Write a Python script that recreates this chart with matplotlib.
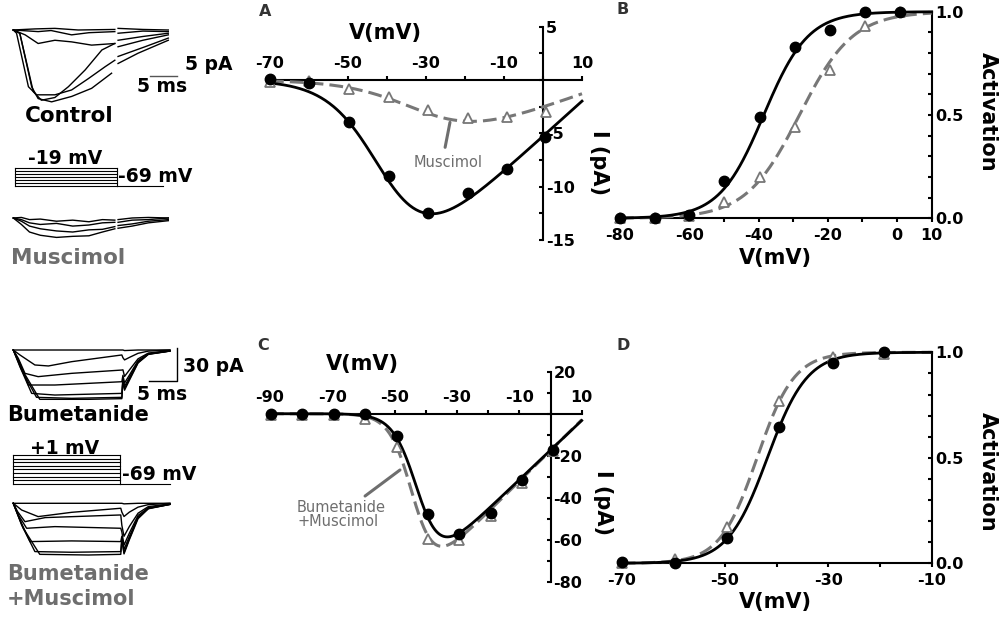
import numpy as np
import matplotlib
matplotlib.use("Agg")
import matplotlib.pyplot as plt

plt.rcParams['font.family'] = ['DejaVu Sans']
plt.rcParams['font.weight'] = 'bold'
plt.rcParams['axes.unicode_minus'] = False
plt.rcParams['axes.linewidth'] = 1.5

W, H = 1000, 623
GRAY = '#6e6e6e'
LGRAY = '#777777'

# ---------------- data ----------------
# Panel A : I-V, control vs muscimol
a_v_ctrl = [-70, -60, -49.8, -39.6, -29.4, -19.3, -9.3, 0.6]
a_i_ctrl = [0.1, -0.3, -3.9, -9.0, -12.45, -10.6, -8.3, -5.3]
a_v_mus = [-70, -60, -49.8, -39.6, -29.4, -19.3, -9.3, 0.8]
a_i_mus = [-0.2, -0.1, -0.8, -1.6, -2.8, -3.6, -3.5, -3.0]
a_fit_ctrl = (0.33, 16.0, -40.0, 6.5)     # G, Erev, Vhalf, k
a_fit_mus = (0.13, 20.0, -29.0, 8.5)

# Panel B : activation, control vs muscimol
b_v = [-80, -69.9, -60, -49.9, -39.6, -29.5, -19.4, -9.3, 0.8]
b_act_ctrl = [0.0, 0.0, 0.016, 0.18, 0.49, 0.83, 0.91, 1.0, 1.0]
b_act_mus = [0.0, 0.0, 0.01, 0.08, 0.20, 0.44, 0.72, 0.93, 1.0]
b_fit_ctrl = (-38.5, 6.4)
b_fit_mus = (-28.2, 7.7)

# Panel C : I-V, bumetanide vs bumetanide+muscimol
c_v = [-89.8, -79.8, -69.5, -59.5, -49.4, -39.2, -29.3, -19.2, -9.0, 0.9]
c_i_bum = [0, 0, 0, 0, -10.4, -47.7, -57.1, -47.2, -31.5, -17.3]
c_i_bm = [-0.5, -0.5, -0.5, -2.4, -16.0, -59.5, -60.3, -48.8, -32.8, -17.6]
c_fit_bum = (1.41, 12.3, -42.2, 3.8)
c_fit_bm = (1.46, 12.0, -43.8, 3.6)

# Panel D : activation, bumetanide vs bumetanide+muscimol
d_v = [-70, -59.7, -49.7, -39.5, -29.2, -19.2]
d_act_bum = [0.008, 0.0, 0.12, 0.645, 0.95, 1.0]
d_act_bm = [0.0, 0.02, 0.17, 0.77, 0.98, 0.99]
d_fit_bum = (-41.8, 3.85)
d_fit_bm = (-43.8, 3.6)

# Example current traces (ms, pA): pulse part, then tail part
ctrl_traces = [
    ([0, 1.2, 3.4, 4.6, 7.1, 10.8, 14.5, 18.2], [0, -0.6, -10.5, -12.7, -13.3, -12.3, -10.8, -8.0],
     [19.4, 23.1, 28.7], [-6.2, -4.3, -1.9]),
    ([0, 0.6, 2.8, 4.3, 7.7, 10.8, 13.9, 17.0, 18.8], [0, -0.6, -10.5, -12.0, -12.0, -11.1, -9.0, -6.8, -5.6],
     [19.4, 24.4, 28.7], [-4.9, -3.1, -1.5]),
    ([0, 1.2, 3.7, 5.2, 7.7, 10.2, 13.3, 16.4, 18.8], [0, -0.6, -11.4, -13.0, -12.5, -10.5, -7.4, -3.7, -2.5],
     [19.4, 24.0, 28.7], [-3.1, -1.9, -0.9]),
    ([0, 2.2, 4.6, 7.7, 10.8, 14.5, 18.8], [0, -0.9, -2.5, -1.9, -2.2, -2.8, -2.5],
     [19.4, 24.0, 28.7], [-1.9, -1.2, -0.6]),
    ([0, 4.6, 7.0, 10.8, 14.0, 18.8], [0, -0.3, -0.1, -0.9, -0.5, -0.3],
     [19.4, 24.0, 28.7], [-0.6, -0.2, -0.3]),
    ([0, 4.0, 7.7, 12.0, 18.8], [0, 0.2, 0.3, 0.0, 0.1],
     [19.4, 24.0, 28.7], [0.3, 0.1, 0.0]),
]
mus_t = [0, 1.5, 3, 5, 8, 11, 14, 16.5, 18.8]
mus_tail_t = [19.4, 22, 25, 28.7]
mus_traces = [
    ([0, -1.2, -2.6, -3.2, -3.6, -3.4, -3.3, -2.6, -2.0], [-1.9, -1.5, -0.9, -0.5]),
    ([0, -0.6, -1.5, -2.0, -2.4, -2.6, -2.2, -2.1, -1.6], [-1.4, -1.1, -0.6, -0.3]),
    ([0, -0.3, -0.9, -1.2, -1.0, -1.5, -1.3, -0.9, -0.8], [-0.8, -0.4, -0.3, 0.0]),
    ([0, 0.1, -0.3, -0.2, -0.6, -0.4, -0.7, -0.3, -0.4], [-0.3, 0.0, 0.1, 0.0]),
]
bum_tail_t = [20.3, 20.6, 21.6, 23.1, 25.0, 29.0]
bum_traces = [
    ([0, 20.1], [0, 0], [0, -0.5, -0.3, 0, 0, 0]),
    ([0, 1.23, 4.0, 6.5, 10.8, 20.1], [0, -4.5, -13.6, -14.5, -10.6, -4.5], [-7, -9, -6.5, -3, -1, 0]),
    ([0, 0.93, 2.16, 4.6, 10.8, 20.1], [0, -7.6, -21.2, -24.2, -21.2, -18.2], [-18, -24, -17.5, -8, -2.8, -0.6]),
    ([0, 1.23, 2.78, 7.7, 20.1], [0, -12.1, -31.8, -31.8, -28.8], [-23, -30, -22, -9.6, -3.3, -0.8]),
    ([0, 1.23, 3.4, 7.7, 20.1], [0, -15.2, -39.4, -40.9, -39.4], [-25, -33, -24, -10.6, -3.6, -0.9]),
    ([0, 1.54, 4.3, 10.8, 20.1], [0, -18.2, -43.0, -43.9, -43.0], [-27, -35, -25.5, -11.3, -3.8, -0.9]),
    ([0, 1.85, 4.9, 13.9, 20.1], [0, -19.7, -44.8, -44.8, -44.2], [-28, -36.5, -26.5, -11.8, -4.0, -1.0]),
]
bm_tail_t = [20.1, 20.5, 21.5, 23.1, 25.0, 29.0]
bm_traces = [
    ([0, 19.9], [0, 0], [0, -0.5, -0.3, 0, 0, 0]),
    ([0, 1.54, 4.6, 10.8, 19.9], [0, -6.1, -12.1, -8.2, -4.5], [-8, -12, -8, -3.5, -1.2, 0]),
    ([0, 0.8, 2.16, 5.9, 19.9], [0, -7.6, -16.7, -13.0, -10.6], [-20, -30, -21, -9, -3, -0.6]),
    ([0, 0.93, 2.47, 7.7, 19.9], [0, -10.6, -22.7, -21.2, -22.7], [-26, -38, -27, -11, -4, -0.8]),
    ([0, 1.23, 3.1, 10.8, 19.9], [0, -15.2, -34.8, -34.2, -34.8], [-30, -42, -30, -12.5, -4.5, -1.0]),
    ([0, 1.54, 4.0, 10.8, 19.9], [0, -19.7, -43.9, -44.5, -43.9], [-32, -45, -32, -13, -4.7, -1.0]),
    ([0, 1.85, 4.9, 13.9, 19.9], [0, -22.7, -46.4, -47.0, -46.4], [-33, -46, -33, -14, -5.0, -1.0]),
]
# Voltage protocols (mV levels, pulse start/end, trace end in ms)
prot1_levels = [-19, -29, -39, -49, -59, -69, -79]
prot1_times = (0.3, 19.2, 27.7)
prot2_levels = [1, -9, -19, -29, -39, -49, -59, -69, -79]
prot2_times = (0.0, 19.8, 29.0)

# ---------------- figure ----------------
fig = plt.figure(figsize=(W / 100, H / 100), dpi=100)


def box(x0, y0, x1, y1):
    return fig.add_axes([x0 / W, 1 - y1 / H, (x1 - x0) / W, (y1 - y0) / H])


def ftext(x, y, s, **kw):
    kw.setdefault('ha', 'center')
    kw.setdefault('va', 'center')
    return fig.text(x / W, 1 - y / H, s, **kw)


def iv_fit(v, G, E, Vh, k):
    return G * (v - E) / (1 + np.exp((Vh - v) / k))


def boltz(v, Vh, k):
    return 1 / (1 + np.exp((Vh - v) / k))


def style_iv(ax, xlim, ylim, xmaj, xmin, ymaj, ymin):
    ax.set_xlim(xlim)
    ax.set_ylim(ylim)
    ax.patch.set_visible(False)
    ax.spines['left'].set_visible(False)
    ax.spines['bottom'].set_visible(False)
    ax.spines['top'].set_position(('data', 0))
    ax.spines['right'].set_position(('data', 0))
    ax.xaxis.set_ticks_position('top')
    ax.yaxis.set_ticks_position('right')
    ax.set_xticks(xmaj)
    ax.set_xticks(xmin, minor=True)
    ax.set_yticks(ymaj)
    ax.set_yticks(ymin, minor=True)
    ax.tick_params(axis='x', which='both', direction='out', length=3, width=1.5,
                   pad=3.5, labelsize=11.5)
    ax.tick_params(axis='y', which='both', direction='in', length=3, width=1.5,
                   pad=2, labelsize=11.5)


def style_act(ax, xlim, xmaj, xmin):
    ax.set_xlim(xlim)
    ax.set_ylim(0, 1)
    ax.patch.set_visible(False)
    ax.spines['left'].set_visible(False)
    ax.spines['top'].set_visible(False)
    ax.xaxis.set_ticks_position('bottom')
    ax.yaxis.set_ticks_position('right')
    ax.set_xticks(xmaj)
    ax.set_xticks(xmin, minor=True)
    ax.set_yticks([0, 0.5, 1.0])
    ax.set_yticks([0.1, 0.2, 0.3, 0.4, 0.6, 0.7, 0.8, 0.9], minor=True)
    ax.tick_params(axis='x', which='both', direction='out', length=3, width=1.5,
                   pad=4, labelsize=11.5)
    ax.tick_params(axis='y', which='both', direction='in', length=3, width=1.5,
                   pad=2.5, labelsize=11.5)


def solid(ax, x, y):
    ax.plot(x, y, color='black', lw=2.0, zorder=4, clip_on=False)


def dashed(ax, x, y):
    ax.plot(x, y, color=LGRAY, lw=2.2, dashes=(4.5, 2.0), zorder=3, clip_on=False)


def circles(ax, x, y):
    ax.plot(x, y, 'o', ms=7.5, color='black', zorder=6, clip_on=False)


def triangles(ax, x, y):
    ax.plot(x, y, '^', ms=6.5, mfc='white', mec=LGRAY, mew=1.3, zorder=5, clip_on=False)


# ---- Panel A ----
axA = box(270, 26.7, 582, 240)
style_iv(axA, (-70, 10), (-15, 5), [-70, -50, -30, -10, 10], [-60, -40, -20, 0],
         [-15, -10, -5, 5], [-12.5, -7.5, -2.5, 0, 2.5])
vA = np.linspace(-70, 10, 300)
dashed(axA, vA, iv_fit(vA, *a_fit_mus))
triangles(axA, a_v_mus, a_i_mus)
solid(axA, vA, iv_fit(vA, *a_fit_ctrl))
circles(axA, a_v_ctrl, a_i_ctrl)
axA.annotate('', xy=(-23.85, -3.97), xytext=(-25.1, -6.31),
             arrowprops=dict(arrowstyle='-', lw=2.2, color=GRAY, shrinkA=0, shrinkB=0))
axA.text(-24.4, -7.72, 'Muscimol', ha='center', va='center', fontsize=10.5,
         fontweight='normal', color=GRAY)

# ---- Panel B ----
axB = box(620, 11.7, 931.7, 218.3)
style_act(axB, (-80, 10), [-80, -60, -40, -20, 0, 10], [-70, -50, -30, -10])
vB = np.linspace(-80, 10, 300)
dashed(axB, vB, boltz(vB, *b_fit_mus))
triangles(axB, b_v, b_act_mus)
solid(axB, vB, boltz(vB, *b_fit_ctrl))
circles(axB, b_v, b_act_ctrl)

# ---- Panel C ----
axC = box(270, 371.7, 581.7, 581.7)
style_iv(axC, (-90, 10), (-80, 20), [-90, -70, -50, -30, -10, 10], [-80, -60, -40, -20, 0],
         [-80, -60, -40, -20, 20], [-70, -50, -30, -10, 0, 10])
vC = np.linspace(-90, 10, 400)
dashed(axC, vC, iv_fit(vC, *c_fit_bm))
triangles(axC, c_v, c_i_bm)
solid(axC, vC, iv_fit(vC, *c_fit_bum))
circles(axC, c_v, c_i_bum)
axC.annotate('', xy=(-48.3, -26.8), xytext=(-59.5, -39.2),
             arrowprops=dict(arrowstyle='-', lw=2.2, color=GRAY, shrinkA=0, shrinkB=0))
axC.text(-81.3, -48.0, 'Bumetanide\n+Muscimol', ha='left', va='center', fontsize=10.5,
         fontweight='normal', color=GRAY, linespacing=1.0)

# ---- Panel D ----
axD = box(621.7, 352.3, 931.7, 563.3)
style_act(axD, (-70, -10), [-70, -50, -30, -10], [-60, -40, -20])
vD = np.linspace(-70, -10, 300)
dashed(axD, vD, boltz(vD, *d_fit_bm))
triangles(axD, d_v, d_act_bm)
solid(axD, vD, boltz(vD, *d_fit_bum))
circles(axD, d_v, d_act_bum)

# ---- axis titles / panel letters ----
big = dict(fontsize=15, fontweight='bold')
ftext(385, 33, 'V(mV)', **big)
ftext(599, 163, 'I (pA)', rotation=270, **big)
ftext(775, 258, 'V(mV)', **big)
ftext(988, 112, 'Activation', rotation=270, **big)
ftext(362, 364, 'V(mV)', **big)
ftext(603, 502, 'I (pA)', rotation=270, **big)
ftext(775, 602, 'V(mV)', **big)
ftext(988, 472, 'Activation', rotation=270, **big)
for lx, ly, lt in [(265, 12, 'A'), (623, 10, 'B'), (263, 346, 'C'), (623, 345, 'D')]:
    ftext(lx, ly, lt, fontsize=11.5, fontweight='bold', color='#333333')


# ---- trace insets ----
def trace_axes(x0, y0, x1, y1, ylim):
    ax = box(x0, y0, x1, y1)
    ax.set_xlim(-0.611, 32.72)
    ax.set_ylim(ylim)
    ax.axis('off')
    return ax


tA = trace_axes(10, 20, 190, 110, (-14.81, 1.85))
for t1, i1, t2, i2 in ctrl_traces:
    tA.plot(list(t1) + [np.nan] + list(t2), list(i1) + [np.nan] + list(i2),
            color='black', lw=1.0)
tA.plot([25.3, 30.3], [-8.57, -8.57], color='#555555', lw=1.0)

tM = trace_axes(10, 208, 190, 250, (-5.93, 1.85))
for i1, i2 in mus_traces:
    tM.plot(mus_t + [np.nan] + mus_tail_t, i1 + [np.nan] + i2, color='black', lw=1.0)

tB = trace_axes(10, 340, 190, 410, (-54.5, 9.09))
for t1, i1, i2 in bum_traces:
    tB.plot(list(t1) + bum_tail_t, list(i1) + i2, color='black', lw=1.0)
tB.plot([25.1, 30.3, 30.3], [-28.2, -28.2, 1.8], color='black', lw=1.0)

tBM = trace_axes(10, 493, 190, 563, (-54.27, 9.36))
for t1, i1, i2 in bm_traces:
    tBM.plot(list(t1) + bm_tail_t, list(i1) + i2, color='black', lw=1.0)


def protocol(ax, levels, times):
    t0, t1, t2 = times
    for lv in levels:
        ax.plot([t0, t1], [lv, lv], color='black', lw=0.8)
    ax.plot([t0, t0], [max(levels), min(levels)], color='black', lw=0.8)
    ax.plot([t1, t1], [max(levels), min(levels)], color='black', lw=0.8)
    ax.plot([t1, t2], [min(levels), min(levels)], color='black', lw=0.8)


p1 = trace_axes(10, 160, 190, 192, (-99, 7.67))
protocol(p1, prot1_levels, prot1_times)
p2 = trace_axes(10, 440, 190, 492, (-101.1, 42.4))
protocol(p2, prot2_levels, prot2_times)

# ---- left-hand texts ----
small = dict(fontsize=13.5, fontweight='bold')
ftext(185, 65, '5 pA', ha='left', **small)
ftext(162, 87, '5 ms', **small)
ftext(69, 116, 'Control', fontsize=15.5, fontweight='bold')
ftext(65, 158, '-19 mV', **small)
ftext(118, 177, '-69 mV', ha='left', **small)
ftext(68, 258, 'Muscimol', fontsize=15.5, fontweight='bold', color=GRAY)
ftext(183, 367, '30 pA', ha='left', **small)
ftext(162, 394, '5 ms', **small)
ftext(7, 415, 'Bumetanide', ha='left', fontsize=15, fontweight='bold')
ftext(65, 449, '+1 mV', **small)
ftext(122, 475, '-69 mV', ha='left', **small)
ftext(7, 574, 'Bumetanide', ha='left', fontsize=15, fontweight='bold', color=GRAY)
ftext(7, 599, '+Muscimol', ha='left', fontsize=15, fontweight='bold', color=GRAY)

fig.savefig('out.png', dpi=100)
